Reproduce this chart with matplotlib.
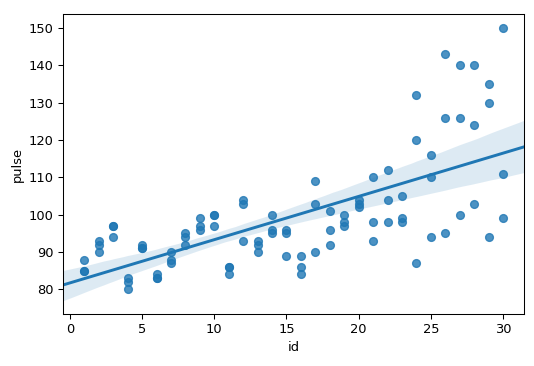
import numpy as np
import pandas as pd
import seaborn as sns
from matplotlib import pyplot as plt

# exercise data: subject id and pulse at 1, 15 and 30 min
ids = [1, 1, 1, 2, 2, 2, 3, 3, 3, 4, 4, 4, 5, 5, 5,
       6, 6, 6, 7, 7, 7, 8, 8, 8, 9, 9, 9, 10, 10, 10,
       11, 11, 11, 12, 12, 12, 13, 13, 13, 14, 14, 14, 15, 15, 15,
       16, 16, 16, 17, 17, 17, 18, 18, 18, 19, 19, 19, 20, 20, 20,
       21, 21, 21, 22, 22, 22, 23, 23, 23, 24, 24, 24, 25, 25, 25,
       26, 26, 26, 27, 27, 27, 28, 28, 28, 29, 29, 29, 30, 30, 30]
pulse = [85, 85, 88, 90, 92, 93, 97, 97, 94, 80, 82, 83, 91, 92, 91,
         83, 83, 84, 87, 88, 90, 92, 94, 95, 97, 99, 96, 100, 97, 100,
         86, 86, 84, 93, 103, 104, 90, 92, 93, 95, 96, 100, 89, 96, 95,
         84, 86, 89, 103, 109, 90, 92, 96, 101, 97, 98, 100, 102, 104, 103,
         93, 98, 110, 98, 104, 112, 98, 105, 99, 87, 132, 120, 94, 110, 116,
         95, 126, 143, 100, 126, 140, 103, 124, 140, 94, 135, 130, 99, 111, 150]

df = pd.DataFrame({'id': ids, 'pulse': pulse})

dpi = 94
fig = plt.figure(figsize=(534 / dpi, 366 / dpi), dpi=dpi)
ax = fig.add_axes([63 / 534, 1 - 314 / 366, 461 / 534, 300 / 366])
ax.set_xlim(-0.48, 31.45)
sns.regplot(x='id', y='pulse', data=df, ax=ax, truncate=False, seed=0)
ax.set_xlim(-0.48, 31.45)
ax.set_ylim(73.4, 153.8)
ax.set_xticks([0, 5, 10, 15, 20, 25, 30])
ax.set_yticks([80, 90, 100, 110, 120, 130, 140, 150])
ax.set_xlabel('id', fontsize=10)
ax.set_ylabel('pulse', fontsize=10)
ax.tick_params(labelsize=10)

fig.savefig('out.png', dpi=dpi)
